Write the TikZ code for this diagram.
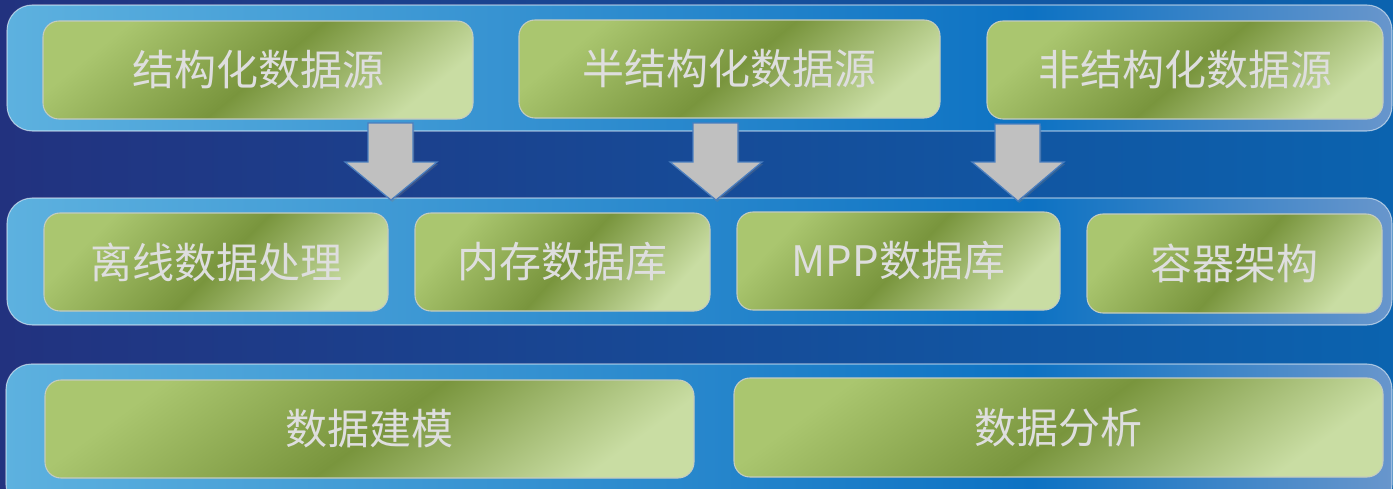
\documentclass[tikz,border=0pt]{standalone}
\usepackage{fontspec}
\newfontfamily\cjk{Noto Sans CJK SC}
\usetikzlibrary{shadows}

\definecolor{bgL}{HTML}{22327F}
\definecolor{bgR}{HTML}{0B63AF}
\definecolor{bandL}{HTML}{5DB1DF}
\definecolor{bandM}{HTML}{0D72C3}
\definecolor{bandR}{HTML}{6896CC}
\definecolor{gA}{HTML}{AAC66F}
\definecolor{gD}{HTML}{79953D}
\definecolor{gC}{HTML}{C9DDA3}
\definecolor{boxedge}{HTML}{C4CCC0}
\definecolor{txt}{HTML}{DEDEDE}
\definecolor{arrowgray}{HTML}{C0C0C0}
\definecolor{arrowedge}{HTML}{4A7EBF}

\pgfdeclarehorizontalshading{bandshade}{100bp}{color(0bp)=(bandL); color(25bp)=(bandL); color(62bp)=(bandM); color(75bp)=(bandR); color(100bp)=(bandR)}
\pgfdeclarehorizontalshading{greenshade}{100bp}{color(0bp)=(gA); color(26bp)=(gA); color(51bp)=(gD); color(75bp)=(gC); color(100bp)=(gC)}

\tikzset{
  band/.style={shade, shading=bandshade, draw=white, draw opacity=0.55, line width=0.8pt, rounded corners=19pt},
  greenbox/.style={shade, shading=greenshade, shading angle=#1, draw=boxedge, line width=0.8pt, rounded corners=12pt},
  greenbox/.default=-45,
  boxtext/.style={text=txt, font=\cjk\fontsize{31.5}{36}\selectfont, inner sep=0pt},
  downarrow/.style={fill=arrowgray, draw=arrowedge, line width=0.9pt, drop shadow={shadow xshift=1pt, shadow yshift=-1.5pt, opacity=0.3}}
}

\begin{document}
\begin{tikzpicture}[x=0.75pt,y=0.75pt,yscale=-1,xscale=1]
\useasboundingbox (0,0) rectangle (1393,489);

%Background
\fill [left color=bgL, right color=bgR] (0,0) rectangle (1393,489);

%Bands
\draw [band] (7,5) rectangle (1392,131);
\draw [band] (7,198) rectangle (1392,325);
\draw [band] (6,364) rectangle (1392,510);

%Sources row
\draw [greenbox=-51] (43,21) rectangle (473,119);
\draw [greenbox=-51] (519,20) rectangle (940,118);
\draw [greenbox=-50] (987,21) rectangle (1383,119);

%Processing row
\draw [greenbox=-45] (44,213) rectangle (388,311);
\draw [greenbox=-42] (415,213) rectangle (710,311);
\draw [greenbox=-44] (737,212) rectangle (1060,310);
\draw [greenbox=-42] (1087,214) rectangle (1382,313);

%Analysis row
\draw [greenbox=-54] (45,380) rectangle (694,478);
\draw [greenbox=-54] (734,378) rectangle (1383,477);

%Shape: Down Arrow
\draw [downarrow] (368,123) -- (413,123) -- (413,162) -- (437,162) -- (391,200) -- (345,162) -- (368,162) -- cycle ;
%Shape: Down Arrow
\draw [downarrow] (693,123) -- (738,123) -- (738,162) -- (762,162) -- (716,200) -- (670,162) -- (693,162) -- cycle ;
%Shape: Down Arrow
\draw [downarrow] (995,124) -- (1040,124) -- (1040,162) -- (1064,162) -- (1018,201) -- (972,162) -- (995,162) -- cycle ;

% Text Node
\node [boxtext] (structured) at (258,70) {结构化数据源};
% Text Node
\node [boxtext] (semistructured) at (729.5,69) {半结构化数据源};
% Text Node
\node [boxtext] (unstructured) at (1185,70) {非结构化数据源};
% Text Node
\node [boxtext] (offline) at (216,262) {离线数据处理};
% Text Node
\node [boxtext] (inmemory) at (562.5,262) {内存数据库};
% Text Node
\node [boxtext] (mpp) at (898.5,261) {MPP数据库};
% Text Node
\node [boxtext] (container) at (1234.5,263.5) {容器架构};
% Text Node
\node [boxtext] (modeling) at (369.5,429) {数据建模};
% Text Node
\node [boxtext] (analysis) at (1058.5,427.5) {数据分析};
\end{tikzpicture}
\end{document}
